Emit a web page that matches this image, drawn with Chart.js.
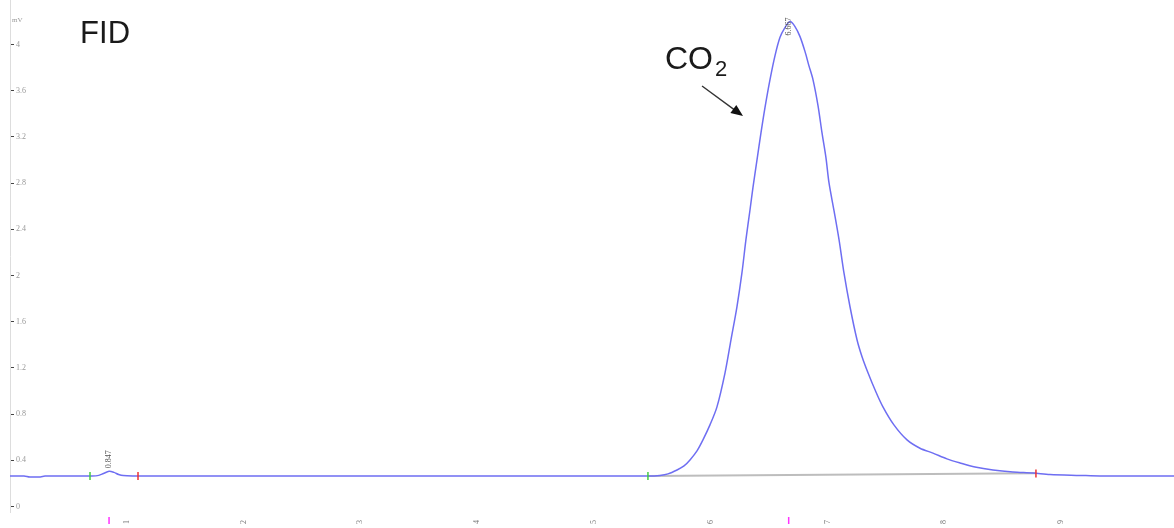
<!DOCTYPE html>
<html>
<head>
<meta charset="utf-8">
<style>
  html, body { margin: 0; padding: 0; background: #ffffff; }
  #wrap { width: 1174px; height: 528px; position: relative; }
</style>
<script src="https://cdn.jsdelivr.net/npm/chart.js@4/dist/chart.umd.min.js"></script>
</head>
<body>
<div id="wrap"><canvas id="c"></canvas></div>
<script>
// ---- data (time in min, signal in mV) ----
const time = [0.00, 0.12, 0.17, 0.26, 0.30, 0.50, 0.70, 0.76, 0.80, 0.848, 0.89, 0.93, 0.97, 1.05,
  1.50, 2.50, 3.50, 4.50, 5.462, 5.565, 5.634, 5.711, 5.771, 5.822, 5.882, 5.933, 5.993, 6.053,
  6.122, 6.173, 6.224, 6.267, 6.301, 6.336, 6.361, 6.396, 6.430, 6.464, 6.507, 6.550, 6.592,
  6.635, 6.678, 6.721, 6.764, 6.807, 6.840, 6.875, 6.918, 6.952, 6.986, 7.012, 7.055, 7.098,
  7.140, 7.192, 7.252, 7.295, 7.346, 7.406, 7.474, 7.568, 7.680, 7.791, 7.902, 8.022, 8.134,
  8.262, 8.416, 8.587, 8.759, 8.904, 9.161, 9.332, 9.97];
const signal = [0.264, 0.264, 0.255, 0.256, 0.263, 0.264, 0.264, 0.269, 0.285, 0.304, 0.295, 0.277, 0.267, 0.264,
  0.264, 0.264, 0.264, 0.264, 0.264, 0.269, 0.282, 0.316, 0.351, 0.403, 0.481, 0.576, 0.706, 0.862,
  1.157, 1.443, 1.729, 2.024, 2.310, 2.569, 2.760, 3.003, 3.236, 3.453, 3.696, 3.904, 4.060,
  4.146, 4.198, 4.155, 4.068, 3.938, 3.817, 3.696, 3.471, 3.236, 3.020, 2.803, 2.561, 2.310,
  2.024, 1.729, 1.443, 1.296, 1.157, 1.010, 0.862, 0.706, 0.576, 0.504, 0.462, 0.412, 0.377,
  0.342, 0.316, 0.299, 0.290, 0.277, 0.269, 0.264, 0.264];

// integration baseline of the CO2 peak
const baseTime = [5.462, 8.784];
const baseSignal = [0.264, 0.287];

// peak start (green) / end (red) markers
const startTimes = [0.685, 5.462];
const startSignal = [0.264, 0.264];
const endTimes = [1.096, 8.784];
const endSignal = [0.264, 0.285];

// retention-time marks below the trace
const rtTimes = [0.848, 6.667];
const rtLabels = ["0.847", "6.667"];
const rtApex = [0.304, 4.198];
const rtMarkTop = -0.091;
const rtMarkBottom = -0.152;

// axis ticks
const xTicks = [1, 2, 3, 4, 5, 6, 7, 8, 9];
const yTicks = [0, 0.4, 0.8, 1.2, 1.6, 2, 2.4, 2.8, 3.2, 3.6, 4];

// annotations (data coordinates)
const detectorLabel = { text: "FID", t: 0.60, v: 4.01 };
const peakName = { main: "CO", sub: "2", t: 5.608, v: 3.787 };
const arrowFrom = { t: 5.925, v: 3.640 };
const arrowTo = { t: 6.276, v: 3.380 };
const unitLabel = "mV";

const pts = (xs, ys) => xs.map((x, i) => ({ x: x, y: ys[i] }));
const rtSegments = [];
rtTimes.forEach(t => {
  rtSegments.push({ x: t, y: rtMarkTop }, { x: t, y: rtMarkBottom }, { x: t, y: null });
});

const annot = {
  id: 'annot',
  afterDatasetsDraw(chart) {
    const ctx = chart.ctx;
    const xs = chart.scales.x, ys = chart.scales.y;
    const px = t => xs.getPixelForValue(t), py = v => ys.getPixelForValue(v);
    ctx.save();
    // unit
    ctx.fillStyle = '#999';
    ctx.font = '7px "Liberation Serif"';
    ctx.textBaseline = 'middle';
    ctx.textAlign = 'left';
    ctx.fillText(unitLabel, chart.chartArea.left + 2, 20);
    // FID
    ctx.fillStyle = '#1a1a1a';
    ctx.font = '31px "Liberation Sans"';
    ctx.textBaseline = 'alphabetic';
    ctx.fillText(detectorLabel.text, px(detectorLabel.t), py(detectorLabel.v));
    // CO2
    ctx.font = '32px "Liberation Sans"';
    const cx = px(peakName.t), cy = py(peakName.v);
    ctx.fillText(peakName.main, cx, cy);
    const w = ctx.measureText(peakName.main).width;
    ctx.font = '22px "Liberation Sans"';
    ctx.fillText(peakName.sub, cx + w + 2, cy + 7);
    // arrow
    const x1 = px(arrowFrom.t), y1 = py(arrowFrom.v), x2 = px(arrowTo.t), y2 = py(arrowTo.v);
    const ang = Math.atan2(y2 - y1, x2 - x1);
    ctx.strokeStyle = '#333';
    ctx.lineWidth = 1.4;
    ctx.beginPath();
    ctx.moveTo(x1, y1);
    ctx.lineTo(x2 - 8 * Math.cos(ang), y2 - 8 * Math.sin(ang));
    ctx.stroke();
    ctx.fillStyle = '#111';
    ctx.beginPath();
    ctx.moveTo(x2, y2);
    ctx.lineTo(x2 - 12 * Math.cos(ang) + 5 * Math.sin(ang), y2 - 12 * Math.sin(ang) - 5 * Math.cos(ang));
    ctx.lineTo(x2 - 12 * Math.cos(ang) - 5 * Math.sin(ang), y2 - 12 * Math.sin(ang) + 5 * Math.cos(ang));
    ctx.closePath();
    ctx.fill();
    // retention time labels, rotated
    ctx.fillStyle = '#555';
    ctx.font = '8px "Liberation Serif"';
    ctx.textAlign = 'left';
    ctx.textBaseline = 'middle';
    rtTimes.forEach((t, i) => {
      ctx.save();
      ctx.translate(px(t), py(rtApex[i]) + (i === 1 ? 14 : -3));
      ctx.rotate(-Math.PI / 2);
      ctx.fillText(rtLabels[i], 0, 0);
      ctx.restore();
    });
    ctx.restore();
  }
};

new Chart(document.getElementById('c'), {
  type: 'line',
  data: {
    datasets: [
      { data: pts(time, signal), borderColor: '#6e6ef2', borderWidth: 1.5, pointRadius: 0,
        tension: 0.3, fill: false, order: 1 },
      { data: pts(baseTime, baseSignal), borderColor: '#bdbdbd', borderWidth: 2, pointRadius: 0, order: 2 },
      { data: pts(startTimes, startSignal), showLine: false, pointStyle: 'line', rotation: 90,
        pointRadius: 4, hoverRadius: 4, borderColor: '#44cc44', borderWidth: 1.5, order: 0 },
      { data: pts(endTimes, endSignal), showLine: false, pointStyle: 'line', rotation: 90,
        pointRadius: 4, hoverRadius: 4, borderColor: '#ee3333', borderWidth: 1.5, order: 0 },
      { data: rtSegments, showLine: true, spanGaps: false, pointRadius: 0, tension: 0,
        borderColor: '#ff33ff', borderWidth: 1.5, clip: false, order: 0 }
    ]
  },
  options: {
    responsive: true,
    maintainAspectRatio: false,
    animation: false,
    layout: { padding: 0, autoPadding: false },
    plugins: { legend: { display: false }, tooltip: { enabled: false }, title: { display: false } },
    scales: {
      x: {
        type: 'linear', min: 0, max: 9.966,
        afterFit: s => { s.height = 16; s.paddingLeft = 0; s.paddingRight = 0; s.paddingTop = 0; s.paddingBottom = 0; },
        afterBuildTicks: s => { s.ticks = xTicks.map(v => ({ value: v })); },
        grid: { display: false },
        border: { display: false },
        ticks: { minRotation: 90, maxRotation: 90, padding: 0, color: '#777',
          font: { size: 8, family: 'Liberation Serif' } }
      },
      y: {
        type: 'linear', min: -0.048, max: 4.385,
        afterFit: s => { s.width = 10; s.paddingTop = 0; s.paddingBottom = 0; s.paddingLeft = 0; s.paddingRight = 0; },
        afterBuildTicks: s => { s.ticks = yTicks.map(v => ({ value: v })); },
        grid: { display: true, drawOnChartArea: false, drawTicks: true, tickLength: -4, tickColor: '#444', lineWidth: 1 },
        border: { display: true, color: '#dddddd', width: 1 },
        ticks: { mirror: true, padding: 6, color: '#999',
          font: { size: 8, family: 'Liberation Serif' },
          callback: v => String(v) }
      }
    }
  },
  plugins: [annot]
});
</script>
</body>
</html>
